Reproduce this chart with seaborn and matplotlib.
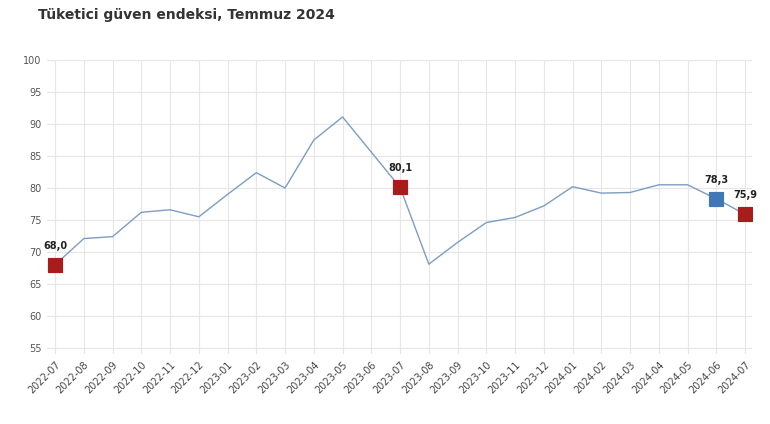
import matplotlib
matplotlib.use("Agg")
import matplotlib.pyplot as plt
import seaborn as sns
import pandas as pd

months = ["2022-07", "2022-08", "2022-09", "2022-10", "2022-11", "2022-12",
          "2023-01", "2023-02", "2023-03", "2023-04", "2023-05", "2023-06",
          "2023-07", "2023-08", "2023-09", "2023-10", "2023-11", "2023-12",
          "2024-01", "2024-02", "2024-03", "2024-04", "2024-05", "2024-06",
          "2024-07"]
values = [68.0, 72.1, 72.4, 76.2, 76.6, 75.5,
          79.0, 82.4, 80.0, 87.5, 91.1, 85.6,
          80.1, 68.1, 71.5, 74.6, 75.4, 77.2,
          80.2, 79.2, 79.3, 80.5, 80.5, 78.3,
          75.9]
highlight_months = ["2022-07", "2023-07", "2024-06", "2024-07"]
highlight_colors = ["#a81c1c", "#a81c1c", "#3f78b5", "#a81c1c"]
yticks = [55, 60, 65, 70, 75, 80, 85, 90, 95, 100]
title = "Tüketici güven endeksi, Temmuz 2024"

df = pd.DataFrame({"ay": months, "deger": values})
df["x"] = range(len(df))

sns.set_theme(style="white")
plt.rcParams["font.family"] = ["DejaVu Sans"]

fig = plt.figure(figsize=(7.7, 4.24), dpi=100)
ax = fig.add_axes([47 / 770, 1 - 354.4 / 424, 705 / 770, (354.4 - 60) / 424])

sns.lineplot(data=df, x="x", y="deger", ax=ax, color="#7d9dc2", linewidth=1.0)

hl = df[df["ay"].isin(highlight_months)].copy()
hl["renk"] = highlight_colors
for _, r in hl.iterrows():
    sns.scatterplot(x=[r["x"]], y=[r["deger"]], ax=ax, marker="s", s=110,
                    color=r["renk"], edgecolor=r["renk"], zorder=5, legend=False)
    ax.annotate(f"{r['deger']:.1f}".replace(".", ","), (r["x"], r["deger"]),
                xytext=(0, 10), textcoords="offset points", ha="center",
                va="bottom", fontsize=7, fontweight="bold", color="#222222")

ax.set_xlim(-0.28, len(months) - 1 + 0.24)
ax.set_ylim(54, 100)
ax.set_yticks(yticks)
ax.set_yticklabels([str(t) for t in yticks], fontsize=7, color="#555555")
ax.set_xticks(df["x"])
ax.set_xticklabels(months, rotation=45, ha="right", rotation_mode="anchor",
                   fontsize=7, color="#444444")
ax.tick_params(axis="both", length=0, pad=4)
ax.grid(True, color="#e6e6e6", linewidth=0.8)
ax.set_axisbelow(True)
for s in ax.spines.values():
    s.set_visible(False)
ax.set_xlabel("")
ax.set_ylabel("")

fig.text(38 / 770, 1 - 15 / 424, title, fontsize=10, fontweight="bold",
         color="#333333", ha="left", va="center")

fig.savefig("out.png", dpi=100)
